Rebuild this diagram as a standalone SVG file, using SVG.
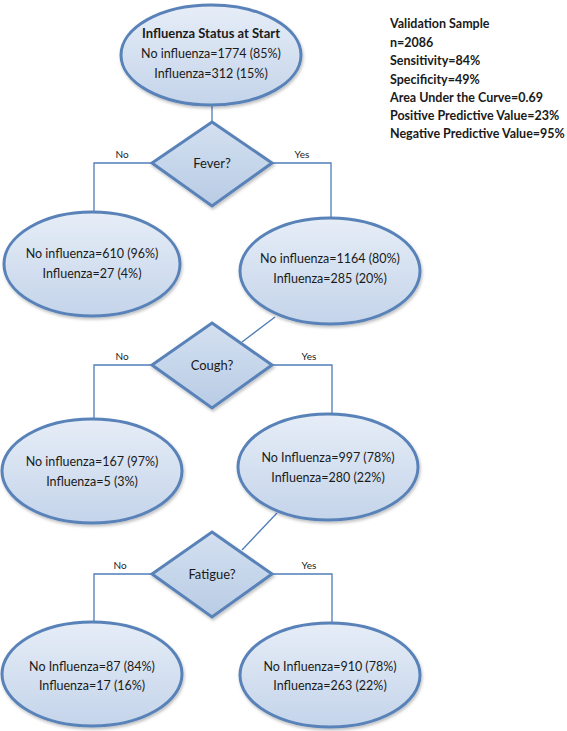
<svg xmlns="http://www.w3.org/2000/svg" width="567" height="731" viewBox="0 0 567 731">
<defs>
<linearGradient id="eg" x1="0" y1="0" x2="0" y2="1">
<stop offset="0" stop-color="#e6edf7"/>
<stop offset="1" stop-color="#c4d4ea"/>
</linearGradient>
<linearGradient id="dg" x1="0" y1="0" x2="0" y2="1">
<stop offset="0" stop-color="#d3e0f0"/>
<stop offset="1" stop-color="#b9cce5"/>
</linearGradient>
<filter id="sh" x="-10%" y="-10%" width="125%" height="130%">
<feDropShadow dx="1" dy="2" stdDeviation="1.5" flood-color="#000" flood-opacity="0.25"/>
</filter>
</defs>
<style>
.ell{fill:url(#eg);stroke:#5882b8;stroke-width:3;filter:url(#sh)}
.dia{fill:url(#dg);stroke:#5882b8;stroke-width:3;stroke-linejoin:miter;filter:url(#sh)}
.con{fill:none;stroke:#4f7db8;stroke-width:1.3}
text{font-family:Lato,"Liberation Sans",sans-serif;fill:#1a1a1a}
.t{font-size:12.5px;text-anchor:middle}
.tb{font-size:13px;font-weight:bold;text-anchor:middle}
.q{font-size:13px;text-anchor:middle}
.lab{font-size:10px;text-anchor:middle}
.side{font-size:12.5px;font-weight:bold}
</style>
<g id="connectors">
<line class="con" x1="212" y1="105" x2="212" y2="122"/>
<polyline class="con" points="152,163 94,163 94,212"/>
<polyline class="con" points="272,163 331,163 331,218"/>
<line class="con" x1="275" y1="317" x2="242" y2="342"/>
<polyline class="con" points="152,365 94,365 94,419"/>
<polyline class="con" points="272,365 332,365 332,414"/>
<line class="con" x1="277" y1="513" x2="242" y2="550"/>
<polyline class="con" points="152,574 94,574 94,622"/>
<polyline class="con" points="272,574 332,574 332,623"/>
<text class="lab" x="122" y="158">No</text>
<text class="lab" x="302" y="158">Yes</text>
<text class="lab" x="122" y="360">No</text>
<text class="lab" x="309" y="360">Yes</text>
<text class="lab" x="120" y="569">No</text>
<text class="lab" x="309" y="569">Yes</text>
</g>
<g id="start">
<ellipse class="ell" cx="211" cy="55" rx="90" ry="50"/>
<text class="tb" x="211" y="38">Influenza Status at Start</text>
<text class="t" x="211" y="58">No influenza=1774 (85%)</text>
<text class="t" x="211" y="78">Influenza=312 (15%)</text>
</g>
<g id="fever">
<polygon class="dia" points="212,122 272,163 212,206 152,163"/>
<text class="q" x="212" y="168">Fever?</text>
</g>
<g id="l1">
<ellipse class="ell" cx="92" cy="264" rx="88" ry="52"/>
<text class="t" x="92" y="258">No influenza=610 (96%)</text>
<text class="t" x="92" y="278">Influenza=27 (4%)</text>
</g>
<g id="r1">
<ellipse class="ell" cx="330" cy="271" rx="90" ry="53"/>
<text class="t" x="330" y="263">No influenza=1164 (80%)</text>
<text class="t" x="330" y="283">Influenza=285 (20%)</text>
</g>
<g id="cough">
<polygon class="dia" points="212,323 272,365 212,408 152,365"/>
<text class="q" x="212" y="370">Cough?</text>
</g>
<g id="l2">
<ellipse class="ell" cx="92" cy="471" rx="90" ry="52"/>
<text class="t" x="92" y="466">No influenza=167 (97%)</text>
<text class="t" x="92" y="486">Influenza=5 (3%)</text>
</g>
<g id="r2">
<ellipse class="ell" cx="328" cy="467" rx="90" ry="53"/>
<text class="t" x="328" y="462">No Influenza=997 (78%)</text>
<text class="t" x="328" y="482">Influenza=280 (22%)</text>
</g>
<g id="fatigue">
<polygon class="dia" points="212,532 272,574 212,617 152,574"/>
<text class="q" x="212" y="579">Fatigue?</text>
</g>
<g id="l3">
<ellipse class="ell" cx="92" cy="674" rx="90" ry="52"/>
<text class="t" x="92" y="671">No Influenza=87 (84%)</text>
<text class="t" x="92" y="690">Influenza=17 (16%)</text>
</g>
<g id="r3">
<ellipse class="ell" cx="330" cy="675" rx="90" ry="52"/>
<text class="t" x="330" y="671">No Influenza=910 (78%)</text>
<text class="t" x="330" y="690">Influenza=263 (22%)</text>
</g>
<g id="stats">
<text class="side" x="390" y="28">Validation Sample</text>
<text class="side" x="390" y="47">n=2086</text>
<text class="side" x="390" y="65">Sensitivity=84%</text>
<text class="side" x="390" y="84">Specificity=49%</text>
<text class="side" x="390" y="102">Area Under the Curve=0.69</text>
<text class="side" x="390" y="120">Positive Predictive Value=23%</text>
<text class="side" x="390" y="138">Negative Predictive Value=95%</text>
</g>
</svg>
